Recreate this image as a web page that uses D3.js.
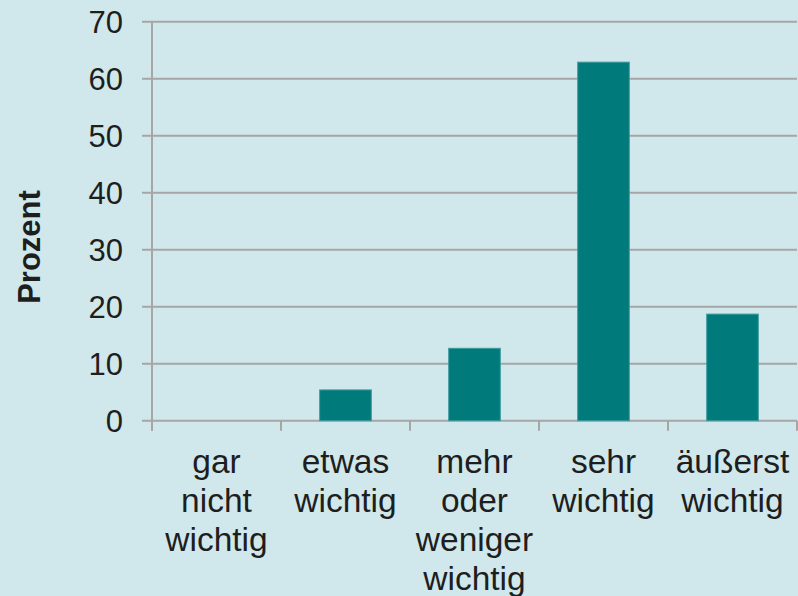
<!DOCTYPE html>
<html><head><meta charset="utf-8">
<script src="https://cdn.jsdelivr.net/npm/d3@7"></script>
<style>body{margin:0;background:#d0e8eb;}svg{display:block;}</style>
</head><body>
<svg id="c" width="798" height="596"></svg>
<script>
const categories = [["gar","nicht","wichtig"],["etwas","wichtig"],["mehr","oder","weniger","wichtig"],["sehr","wichtig"],["äußerst","wichtig"]];
const values = [0, 5.4, 12.7, 62.9, 18.7];
const yTicks = [0,10,20,30,40,50,60,70];
const yTitle = "Prozent";

const svg = d3.select("#c");
svg.append("rect").attr("width",798).attr("height",596).attr("fill","#d0e8eb");
const m = {l:152, r:797, t:21.7, b:420.7};
const x = d3.scaleBand().domain(d3.range(categories.length)).range([m.l,m.r]).paddingInner(0.6).paddingOuter(0.3);
const y = d3.scaleLinear().domain([0,70]).range([m.b,m.t]);
const grid = "#a6a6a6";
const font = "'Liberation Sans', Arial, sans-serif";

// gridlines + y ticks
svg.append("g").selectAll("line").data(yTicks).join("line")
  .attr("x1",142).attr("x2",m.r).attr("y1",d=>y(d)).attr("y2",d=>y(d))
  .attr("stroke",grid).attr("stroke-width",2);
svg.append("g").selectAll("text").data(yTicks).join("text")
  .attr("x",123).attr("y",d=>y(d)).attr("dy","0.36em").attr("text-anchor","end")
  .attr("font-family",font).attr("font-size",31).attr("fill","#1e1e1e").text(d=>d);
// y axis line
svg.append("line").attr("x1",m.l).attr("x2",m.l).attr("y1",m.t).attr("y2",m.b+10).attr("stroke",grid).attr("stroke-width",2);
// x ticks
const step = (m.r-m.l)/categories.length;
svg.append("g").selectAll("line").data(d3.range(categories.length+1)).join("line")
  .attr("x1",i=>m.l+i*step).attr("x2",i=>m.l+i*step).attr("y1",m.b).attr("y2",m.b+10)
  .attr("stroke",grid).attr("stroke-width",2);
// bars
svg.append("g").selectAll("rect").data(values).join("rect")
  .attr("x",(d,i)=>x(i)).attr("width",x.bandwidth())
  .attr("y",d=>y(d)).attr("height",d=>y(0)-y(d))
  .attr("fill",d=>d>0?"#007a7a":"none").attr("stroke",d=>d>0?"#3d9a9c":"none").attr("stroke-width",1);
// x labels
const lbl = svg.append("g");
categories.forEach((lines,i)=>{
  const t = lbl.append("text").attr("x",m.l+(i+0.5)*step).attr("y",473).attr("text-anchor","middle")
    .attr("font-family",font).attr("font-size",33.5).attr("fill","#1e1e1e");
  lines.forEach((s,j)=>t.append("tspan").attr("x",m.l+(i+0.5)*step).attr("y",473+j*39).text(s));
});
// y title
svg.append("text").attr("transform","translate(40,247) rotate(-90)").attr("text-anchor","middle")
  .attr("font-family",font).attr("font-weight","bold").attr("font-size",31).attr("fill","#1e1e1e").text(yTitle);
</script>
</body></html>
